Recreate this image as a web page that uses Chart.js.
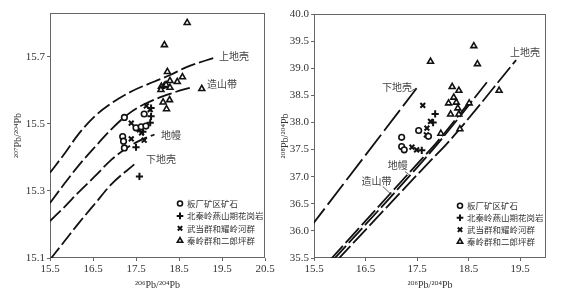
<!DOCTYPE html>
<html>
<head>
<meta charset="utf-8">
<script src="https://cdn.jsdelivr.net/npm/chart.js@4.4.0/dist/chart.umd.min.js"></script>
<style>
    html, body { margin: 0; padding: 0; background: #fff; }
    #wrap { position: relative; width: 582px; height: 291px; overflow: hidden; }
    #left_box { position: absolute; left: 0; top: 0; width: 278px; height: 291px; }
    #right_box { position: absolute; left: 278px; top: 0; width: 304px; height: 291px; }
</style>
</head>
<body>
<div id="wrap">
    <div id="left_box"><canvas id="pb207_chart" width="278" height="291"></canvas></div>
    <div id="right_box"><canvas id="pb208_chart" width="304" height="291"></canvas></div>
</div>
<script>
// series names (legend)
let series_names = ['板厂矿区矿石', '北秦岭燕山期花岗岩', '武当群和耀岭河群', '秦岭群和二郎坪群'];

// left plot : 206Pb/204Pb vs 207Pb/204Pb
let ore_206_a = [17.23, 17.69, 17.50, 17.62, 17.73, 17.19, 17.21, 17.23];
let ore_207 = [15.519, 15.529, 15.488, 15.491, 15.493, 15.462, 15.448, 15.428];
let granite_206_a = [17.85, 17.85, 17.83, 17.66, 17.50, 17.58];
let granite_207 = [15.547, 15.522, 15.503, 15.476, 15.430, 15.343];
let wudang_206_a = [17.74, 17.83, 17.39, 17.39, 17.69, 17.58, 17.63];
let wudang_207 = [15.553, 15.542, 15.502, 15.455, 15.451, 15.482, 15.473];
let qinling_206_a = [18.69, 18.16, 18.23, 18.29, 18.46, 18.58, 18.09, 18.16, 18.20, 18.29, 18.08, 18.13, 18.28, 18.21, 19.03];
let qinling_207 = [15.801, 15.735, 15.655, 15.628, 15.625, 15.639, 15.611, 15.613, 15.616, 15.608, 15.601, 15.564, 15.571, 15.544, 15.604];

// evolution curves, left plot
let upper_crust_206_a = [15.5, 15.85, 16.15, 16.54, 16.93, 17.39, 17.93, 18.31, 18.66, 19.35];
let upper_crust_207 = [15.354, 15.413, 15.467, 15.522, 15.561, 15.596, 15.626, 15.646, 15.668, 15.698];
let orogen_206_a = [15.5, 15.85, 16.15, 16.54, 16.93, 17.31, 17.69, 18.31, 18.80];
let orogen_207 = [15.264, 15.324, 15.373, 15.430, 15.484, 15.528, 15.558, 15.590, 15.609];
let mantle_206_a = [15.5, 15.85, 16.15, 16.54, 16.93, 17.31, 17.62, 17.93];
let mantle_207 = [15.210, 15.254, 15.294, 15.343, 15.393, 15.430, 15.452, 15.468];
let lower_crust_206_a = [15.5, 15.85, 16.15, 16.54, 16.93, 17.46];
let lower_crust_207 = [15.095, 15.152, 15.201, 15.261, 15.320, 15.379];

// right plot : 206Pb/204Pb vs 208Pb/204Pb
let ore_206_b = [17.20, 17.53, 17.72, 17.20, 17.25];
let ore_208 = [37.726, 37.851, 37.744, 37.556, 37.495];
let granite_206_b = [17.85, 17.81, 17.59];
let granite_208 = [38.158, 37.998, 37.486];
let wudang_206_b = [17.61, 17.76, 17.69, 17.68, 17.40, 17.49];
let wudang_208 = [38.315, 38.020, 37.895, 37.772, 37.545, 37.495];
let qinling_206_b = [17.76, 18.60, 18.67, 18.18, 18.31, 19.09, 18.21, 18.11, 18.26, 18.29, 18.15, 18.31, 18.33, 18.51, 17.96];
let qinling_208 = [39.122, 39.411, 39.079, 38.656, 38.587, 38.587, 38.462, 38.355, 38.370, 38.263, 38.149, 38.149, 37.877, 38.355, 37.796];

// evolution curves, right plot
let upper_crust_206_b = [15.94, 17.72, 18.11, 19.42];
let upper_crust_208 = [35.45, 37.255, 37.642, 39.15];
let orogen_206_b = [15.86, 17.58, 17.93, 18.87];
let orogen_208 = [35.45, 37.255, 37.642, 38.76];
let mantle_206_b = [15.80, 17.52, 17.89, 18.50];
let mantle_208 = [35.45, 37.255, 37.642, 38.36];
let lower_crust_206_b = [15.40, 17.49];
let lower_crust_208 = [36.03, 38.63];

// tick labels
let left_x_ticks = [15.5, 16.5, 17.5, 18.5, 19.5, 20.5];
let left_y_ticks = [15.1, 15.3, 15.5, 15.7];
let right_x_ticks = [15.5, 16.5, 17.5, 18.5, 19.5];
let right_y_ticks = [35.5, 36.0, 36.5, 37.0, 37.5, 38.0, 38.5, 39.0, 39.5, 40.0];

// curve names written next to the curves
let left_curve_labels = [
    { text: '上地壳', x: 19.43, y: 15.700, align: 'left' },
    { text: '造山带', x: 19.15, y: 15.618, align: 'left' },
    { text: '地幔', x: 18.08, y: 15.465, align: 'left' },
    { text: '下地壳', x: 17.73, y: 15.393, align: 'left' }
];
let right_curve_labels = [
    { text: '上地壳', x: 19.30, y: 39.30, align: 'left' },
    { text: '下地壳', x: 17.40, y: 38.656, align: 'right' },
    { text: '地幔', x: 16.93, y: 37.22, align: 'left' },
    { text: '造山带', x: 16.42, y: 36.91, align: 'left' }
];
let right_leaders = [
    [17.40, 38.59, 17.49, 38.63],
    [17.265, 37.096, 17.34, 37.04],
    [16.833, 36.82, 17.004, 36.667]
];

let marker_styles = [
    { pointStyle: 'circle', radius: 2.8, borderWidth: 1.6 },
    { pointStyle: 'cross', radius: 3.6, borderWidth: 2 },
    { pointStyle: 'crossRot', radius: 3.4, borderWidth: 2 },
    { pointStyle: 'triangle', radius: 3.4, borderWidth: 1.6 }
];

let serif_font = "'Liberation Serif', 'DejaVu Serif', serif";
let cjk_font = "'Noto Sans CJK SC', sans-serif";

function to_points(xs, ys) {
    return xs.map(function (x, i) { return { x: x, y: ys[i] }; });
}

function marker_dataset(index, xs, ys) {
    let style = marker_styles[index];
    return {
        label: series_names[index],
        data: to_points(xs, ys),
        showLine: false,
        pointStyle: style.pointStyle,
        pointRadius: style.radius,
        pointHoverRadius: style.radius,
        pointBorderWidth: style.borderWidth,
        pointBackgroundColor: '#fff',
        pointBorderColor: '#111'
    };
}

function curve_dataset(name, xs, ys, dash) {
    return {
        label: name,
        data: to_points(xs, ys),
        showLine: true,
        pointRadius: 0,
        borderColor: '#111',
        borderWidth: 1.8,
        borderDash: dash,
        cubicInterpolationMode: 'monotone'
    };
}

function fixed_ticks(list) {
    return function (scale) {
        scale.ticks = list.map(function (v) { return { value: v }; });
    };
}

// box round the plot area
let frame_plugin = {
    id: 'frame_plugin',
    beforeDatasetsDraw: function (chart) {
        let ctx = chart.ctx;
        let a = chart.chartArea;
        ctx.save();
        ctx.strokeStyle = '#666';
        ctx.lineWidth = 1;
        ctx.strokeRect(Math.round(a.left) + 0.5, Math.round(a.top) + 0.5,
            Math.round(a.right - a.left) - 1, Math.round(a.bottom - a.top) - 1);
        ctx.restore();
    }
};

// curve names, leader lines and the legend box inside the plot
let notes_plugin = {
    id: 'notes_plugin',
    afterDatasetsDraw: function (chart, args, opts) {
        let ctx = chart.ctx;
        let sx = chart.scales.x;
        let sy = chart.scales.y;
        ctx.save();
        ctx.font = '10px ' + cjk_font;
        ctx.fillStyle = '#444';
        ctx.textBaseline = 'middle';
        opts.labels.forEach(function (l) {
            ctx.textAlign = l.align;
            ctx.fillText(l.text, sx.getPixelForValue(l.x), sy.getPixelForValue(l.y));
        });
        ctx.strokeStyle = '#333';
        ctx.lineWidth = 0.8;
        (opts.leaders || []).forEach(function (l) {
            ctx.beginPath();
            ctx.moveTo(sx.getPixelForValue(l[0]), sy.getPixelForValue(l[1]));
            ctx.lineTo(sx.getPixelForValue(l[2]), sy.getPixelForValue(l[3]));
            ctx.stroke();
        });

        // legend
        let lg = opts.legend;
        ctx.font = '8.5px ' + cjk_font;
        ctx.textAlign = 'left';
        series_names.forEach(function (name, i) {
            let y = lg.y + i * lg.dy;
            let st = marker_styles[i];
            ctx.strokeStyle = '#111';
            ctx.fillStyle = '#fff';
            ctx.lineWidth = st.borderWidth;
            Chart.helpers.drawPoint(ctx, {
                pointStyle: st.pointStyle, radius: st.radius - 0.3,
                borderWidth: st.borderWidth, rotation: 0
            }, lg.x, y);
            ctx.fillStyle = '#333';
            ctx.fillText(name, lg.x + 7, y);
        });
        ctx.restore();
    }
};

function make_chart(canvas_id, datasets, cfg) {
    return new Chart(document.getElementById(canvas_id), {
        type: 'scatter',
        data: { datasets: datasets },
        options: {
            responsive: false,
            animation: false,
            layout: { padding: cfg.padding },
            scales: {
                x: {
                    type: 'linear',
                    min: cfg.x_min,
                    max: cfg.x_max,
                    afterBuildTicks: fixed_ticks(cfg.x_ticks),
                    afterFit: function (s) { s.height = 33; },
                    border: { display: false },
                    grid: { drawOnChartArea: false, drawTicks: true, tickLength: 3, color: '#666' },
                    ticks: {
                        padding: 2,
                        color: '#333',
                        font: { family: serif_font, size: 11 },
                        callback: function (v) { return v.toFixed(1); }
                    },
                    title: {
                        display: true,
                        text: '²⁰⁶Pb/²⁰⁴Pb',
                        color: '#333',
                        padding: 0,
                        font: { family: serif_font, size: 10 }
                    }
                },
                y: {
                    type: 'linear',
                    min: cfg.y_min,
                    max: cfg.y_max,
                    afterBuildTicks: fixed_ticks(cfg.y_ticks),
                    afterFit: function (s) { s.width = cfg.y_width; },
                    border: { display: false },
                    grid: { drawOnChartArea: false, drawTicks: true, tickLength: 3, color: '#666' },
                    ticks: {
                        padding: 2,
                        color: '#333',
                        font: { family: serif_font, size: 11 },
                        callback: function (v) { return v.toFixed(1); }
                    },
                    title: {
                        display: true,
                        text: cfg.y_title,
                        color: '#333',
                        padding: 0,
                        font: { family: serif_font, size: 10 }
                    }
                }
            },
            plugins: {
                legend: { display: false },
                tooltip: { enabled: false },
                notes_plugin: { labels: cfg.labels, leaders: cfg.leaders, legend: cfg.legend }
            }
        },
        plugins: [frame_plugin, notes_plugin]
    });
}

// left chart
let pb207_chart = make_chart('pb207_chart', [
    marker_dataset(0, ore_206_a, ore_207),
    marker_dataset(1, granite_206_a, granite_207),
    marker_dataset(2, wudang_206_a, wudang_207),
    marker_dataset(3, qinling_206_a, qinling_207),
    curve_dataset('上地壳', upper_crust_206_a, upper_crust_207, [15, 4]),
    curve_dataset('造山带', orogen_206_a, orogen_207, [15, 4]),
    curve_dataset('地幔', mantle_206_a, mantle_207, [15, 4]),
    curve_dataset('下地壳', lower_crust_206_a, lower_crust_207, [15, 4])
], {
    padding: { left: 12, right: 13, top: 13, bottom: 0 },
    y_width: 38,
    x_min: 15.5, x_max: 20.5, x_ticks: left_x_ticks,
    y_min: 15.1, y_max: 15.83, y_ticks: left_y_ticks,
    y_title: '²⁰⁷Pb/²⁰⁴Pb',
    labels: left_curve_labels,
    leaders: [],
    legend: { x: 180, y: 203.5, dy: 12.4 }
});

// right chart
let pb208_chart = make_chart('pb208_chart', [
    marker_dataset(0, ore_206_b, ore_208),
    marker_dataset(1, granite_206_b, granite_208),
    marker_dataset(2, wudang_206_b, wudang_208),
    marker_dataset(3, qinling_206_b, qinling_208),
    curve_dataset('上地壳', upper_crust_206_b, upper_crust_208, [20, 4]),
    curve_dataset('造山带', orogen_206_b, orogen_208, [20, 4]),
    curve_dataset('地幔', mantle_206_b, mantle_208, [20, 4]),
    curve_dataset('下地壳', lower_crust_206_b, lower_crust_208, [26, 5])
], {
    padding: { left: 1, right: 36, top: 14, bottom: 0 },
    y_width: 35,
    x_min: 15.5, x_max: 20.0, x_ticks: right_x_ticks,
    y_min: 35.5, y_max: 40.0, y_ticks: right_y_ticks,
    y_title: '²⁰⁸Pb/²⁰⁴Pb',
    labels: right_curve_labels,
    leaders: right_leaders,
    legend: { x: 182, y: 205.7, dy: 12 }
});
</script>
</body>
</html>
